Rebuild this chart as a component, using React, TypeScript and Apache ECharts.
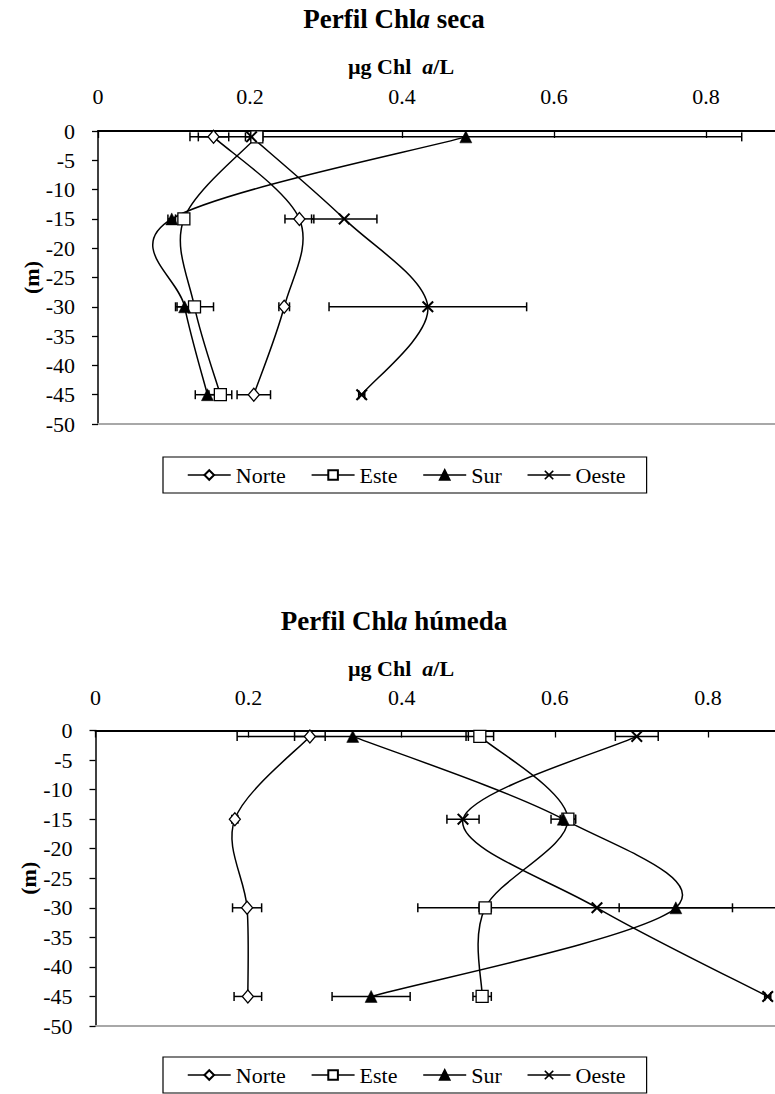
import React, { useEffect, useRef } from "react";
import * as echarts from "echarts";

// ---------- data ----------
const categories = ["Norte", "Este", "Sur", "Oeste"];
const depths = [-1, -15, -30, -45];
const xTicks = [0, 0.2, 0.4, 0.6, 0.8];
const yTicks = [0, -5, -10, -15, -20, -25, -30, -35, -40, -45, -50];

// Perfil Chl a seca (µg Chl a/L) and standard errors
const secaNorte = [0.152, 0.265, 0.245, 0.205];
const secaNorteErr = [0.02, 0.019, 0.007, 0.022];
const secaEste = [0.209, 0.113, 0.127, 0.161];
const secaEsteErr = [0.008, 0.005, 0.025, 0.015];
const secaSur = [0.484, 0.097, 0.114, 0.144];
const secaSurErr = [0.363, 0.005, 0.01, 0.016];
const secaOeste = [0.202, 0.324, 0.434, 0.347];
const secaOesteErr = [0.008, 0.043, 0.13, 0.004];

// Perfil Chl a húmeda
const humNorte = [0.28, 0.182, 0.198, 0.199];
const humNorteErr = [0.02, 0.004, 0.019, 0.018];
const humEste = [0.502, 0.617, 0.509, 0.505];
const humEsteErr = [0.018, 0.01, 0.008, 0.012];
const humSur = [0.336, 0.611, 0.758, 0.36];
const humSurErr = [0.151, 0.016, 0.074, 0.051];
const humOeste = [0.707, 0.48, 0.655, 0.878];
const humOesteErr = [0.028, 0.021, 0.234, 0.004];

const FONT = "Liberation Serif";
const X_PATH =
  "path://M0,1.2L1.2,0L5,3.8L8.8,0L10,1.2L6.2,5L10,8.8L8.8,10L5,6.2L1.2,10L0,8.8L3.8,5Z";

const symbolStyles: Record<string, any> = {
  Norte: { symbol: "diamond", symbolSize: [11, 13], itemStyle: { color: "#fff", borderColor: "#000", borderWidth: 1.3 } },
  Este: { symbol: "rect", symbolSize: 12, itemStyle: { color: "#fff", borderColor: "#000", borderWidth: 1.3 } },
  Sur: { symbol: "triangle", symbolSize: 12, itemStyle: { color: "#000", borderColor: "#000", borderWidth: 0.5 } },
  Oeste: { symbol: X_PATH, symbolSize: 12, itemStyle: { color: "#000", borderWidth: 0 } },
};

function buildGrid(g: number, values: number[][], errs: number[][]): any[] {
  const series: any[] = [];
  const errRows: number[][] = [];
  const curveRows: number[][] = [];
  categories.forEach((name, s) => {
    const st = symbolStyles[name];
    series.push({
      type: "line",
      name,
      xAxisIndex: g * 2,
      yAxisIndex: g,
      data: depths.map((d, i) => [values[s][i], d]),
      symbol: st.symbol,
      symbolSize: st.symbolSize,
      showAllSymbol: true,
      itemStyle: st.itemStyle,
      lineStyle: { color: "#000", width: 1.5, opacity: 0 },
      z: 4,
    });
    depths.forEach((d, i) => errRows.push([values[s][i], d, errs[s][i]]));
    curveRows.push([values[s][0], depths[0], s]);
  });
  // smoothed profile curves (Catmull-Rom / Excel-like smoothing) through the axis scales
  series.push({
    type: "custom",
    name: "curve" + g,
    xAxisIndex: g * 2,
    yAxisIndex: g,
    clip: true,
    z: 3,
    encode: { x: 0, y: 1 },
    data: curveRows,
    renderItem: (params: any, api: any) => {
      const s = api.value(2);
      const pts = depths.map((d, i) => api.coord([values[s][i], d]));
      const n = pts.length;
      const children: any[] = [];
      for (let i = 0; i < n - 1; i++) {
        const p0 = pts[Math.max(i - 1, 0)];
        const p1 = pts[i];
        const p2 = pts[i + 1];
        const p3 = pts[Math.min(i + 2, n - 1)];
        children.push({
          type: "bezierCurve",
          shape: {
            x1: p1[0],
            y1: p1[1],
            x2: p2[0],
            y2: p2[1],
            cpx1: p1[0] + (p2[0] - p0[0]) / 6,
            cpy1: p1[1] + (p2[1] - p0[1]) / 6,
            cpx2: p2[0] - (p3[0] - p1[0]) / 6,
            cpy2: p2[1] - (p3[1] - p1[1]) / 6,
          },
          style: { stroke: "#000", lineWidth: 1.5, fill: "none" },
        });
      }
      return { type: "group", children };
    },
  });
  series.push({
    type: "custom",
    name: "err" + g,
    xAxisIndex: g * 2,
    yAxisIndex: g,
    clip: true,
    z: 2,
    encode: { x: 0, y: 1 },
    data: errRows,
    renderItem: (params: any, api: any) => {
      const x = api.value(0);
      const y = api.value(1);
      const e = api.value(2);
      const p0 = api.coord([x - e, y]);
      const p1 = api.coord([x + e, y]);
      const h = 4.5;
      const style = { stroke: "#000", lineWidth: 1.5, fill: "none" };
      return {
        type: "group",
        children: [
          { type: "line", shape: { x1: p0[0], y1: p0[1], x2: p1[0], y2: p1[1] }, style },
          { type: "line", shape: { x1: p0[0], y1: p0[1] - h, x2: p0[0], y2: p0[1] + h }, style },
          { type: "line", shape: { x1: p1[0], y1: p1[1] - h, x2: p1[0], y2: p1[1] + h }, style },
        ],
      };
    },
  });
  return series;
}

function richTitle(x: number, y: number, parts: [string, string, string], size: number) {
  const base = { fontFamily: FONT, fontWeight: "bold", fontSize: size, fill: "#000" };
  return {
    type: "text",
    x,
    y,
    silent: true,
    style: {
      text: `{b|${parts[0]}}{i|${parts[1]}}{b|${parts[2]}}`,
      align: "center",
      verticalAlign: "middle",
      fontFamily: FONT,
      fontWeight: "bold",
      fontSize: size,
      rich: {
        b: { ...base },
        i: { ...base, fontStyle: "italic" },
      },
    },
  };
}

export default function App() {
  const ref = useRef<HTMLDivElement>(null);
  useEffect(() => {
    document.body.style.margin = "0";
    document.body.style.overflow = "hidden";
    if (!ref.current) return;
    const chart = echarts.init(ref.current, undefined, { renderer: "svg" });

    const W = 775;
    const grids = [
      { left: 98, top: 131, width: W - 98, height: 293, outerBoundsMode: "none" },
      { left: 95.5, top: 730.5, width: W - 95.5, height: 295.5, outerBoundsMode: "none" },
    ];
    const pxPerUnit = [760, 765.6];
    const labelMargins = [24, 22];

    const xAxes: any[] = [];
    const yAxes: any[] = [];
    grids.forEach((gr, g) => {
      const xMax = gr.width / pxPerUnit[g];
      xAxes.push({
        type: "value",
        gridIndex: g,
        position: "top",
        min: 0,
        max: xMax,
        interval: 0.2,
        axisLine: { onZero: false, lineStyle: { color: "#000", width: 2 } },
        axisTick: {
          show: true,
          inside: true,
          length: 7,
          customValues: xTicks,
          lineStyle: { color: "#000", width: 1.3 },
        },
        axisLabel: {
          color: "#000",
          fontFamily: FONT,
          fontSize: 22,
          margin: labelMargins[g],
          customValues: xTicks,
          formatter: (v: number) => String(+v.toFixed(1)),
        },
        splitLine: { show: false },
      });
      xAxes.push({
        type: "value",
        gridIndex: g,
        position: "bottom",
        min: 0,
        max: xMax,
        axisLine: { onZero: false, lineStyle: { color: "#a8a8a8", width: 2 } },
        axisTick: { show: false },
        axisLabel: { show: false },
        splitLine: { show: false },
      });
      yAxes.push({
        type: "value",
        gridIndex: g,
        min: -50,
        max: 0,
        interval: 5,
        name: "(m)",
        nameLocation: "middle",
        nameRotate: 90,
        nameGap: 56,
        nameMoveOverlap: false,
        nameTextStyle: { color: "#000", fontFamily: FONT, fontWeight: "bold", fontSize: 22 },
        axisLine: { onZero: false, lineStyle: { color: "#000", width: 1.5 } },
        axisTick: { show: true, inside: false, length: 6, customValues: yTicks, lineStyle: { color: "#000", width: 1.3 } },
        axisLabel: { color: "#000", fontFamily: FONT, fontSize: 22, margin: 23, customValues: yTicks },
        splitLine: { show: false },
      });
    });

    const series = [
      ...buildGrid(0, [secaNorte, secaEste, secaSur, secaOeste], [secaNorteErr, secaEsteErr, secaSurErr, secaOesteErr]),
      ...buildGrid(1, [humNorte, humEste, humSur, humOeste], [humNorteErr, humEsteErr, humSurErr, humOesteErr]),
    ];

    const legendBase = {
      data: categories,
      orient: "horizontal",
      left: 163,
      itemWidth: 43,
      itemHeight: 12,
      itemGap: 25,
      padding: [7, 21, 7, 24],
      borderColor: "#000",
      borderWidth: 1.2,
      selectedMode: false,
      lineStyle: { color: "#000", width: 1.5, opacity: 1 },
      textStyle: { color: "#000", fontFamily: FONT, fontSize: 22 },
    };

    chart.setOption({
      animation: false,
      backgroundColor: "#fff",
      textStyle: { fontFamily: FONT },
      grid: grids,
      xAxis: xAxes,
      yAxis: yAxes,
      legend: [
        { ...legendBase, top: 457 },
        { ...legendBase, top: 1057 },
      ],
      graphic: [
        richTitle(394, 19, ["Perfil Chl", "a", " seca"], 27),
        richTitle(401, 66, ["µg Chl  ", "a", "/L"], 22),
        richTitle(394, 621, ["Perfil Chl", "a", " húmeda"], 27),
        richTitle(401, 668, ["µg Chl  ", "a", "/L"], 22),
      ],
      series,
    });
    return () => chart.dispose();
  }, []);
  return <div ref={ref} style={{ width: 775, height: 1094 }} />;
}
